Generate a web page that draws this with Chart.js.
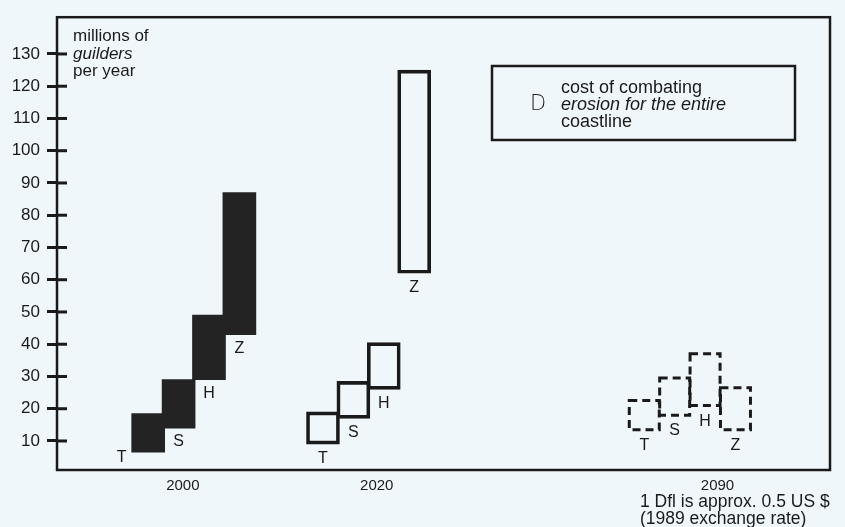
<!DOCTYPE html>
<html>
<head>
<meta charset="utf-8">
<script src="https://cdn.jsdelivr.net/npm/chart.js@4"></script>
<style>
  html, body { margin: 0; padding: 0; background: #f0f7fb; }
  #wrap { width: 845px; height: 527px; }
</style>
</head>
<body>
<div id="wrap"><canvas id="chart" width="845" height="527"></canvas></div>
<script>
// data (millions of guilders per year)
const periods = ["2000", "2020", "2090"];
const scenarios = ["T", "S", "H", "Z"];
const low2000 = [6.5, 14, 29, 43];
const high2000 = [18.5, 29, 49, 87];
const low2020 = [9, 17, 26, 62];
const high2020 = [19, 28.5, 40.5, 125];
const low2090 = [13, 17.5, 20.5, 13];
const high2090 = [23, 30, 37.5, 27];
const yTicks = [10, 20, 30, 40, 50, 60, 70, 80, 90, 100, 110, 120, 130];

// layout: where each group sits on the hidden x axis (one unit per bar)
const groupStart = [3, 8.75, 19.32];
const groupLabelAt = [4.14, 10.52, 21.73];

const ink = "#1a1a1a";
const font = '"Liberation Sans", Arial, Helvetica, sans-serif';

function rows(lo, hi, g) {
    return scenarios.map((s, i) => ({ x: groupStart[g] + i, y: [lo[i], hi[i]] }));
}

const data = {
    datasets: [
        {
            label: periods[0],
            data: rows(low2000, high2000, 0),
            backgroundColor: "#232323",
            borderWidth: 0,
        },
        {
            label: periods[1],
            data: rows(low2020, high2020, 1),
            backgroundColor: "rgba(0,0,0,0)",
            borderColor: ink,
            borderWidth: 3,
            borderSkipped: false,
        },
        {
            label: periods[2],
            data: rows(low2090, high2090, 2),
            backgroundColor: "rgba(0,0,0,0)",
            borderWidth: 0,
            dashed: true,
        },
    ],
};

const extras = {
    id: "extras",
    afterDraw(chart) {
        const ctx = chart.ctx;
        const a = chart.chartArea;
        const y = chart.scales.y;
        ctx.save();
        ctx.strokeStyle = ink;
        ctx.fillStyle = ink;

        // frame
        ctx.lineWidth = 2.5;
        ctx.strokeRect(a.left, a.top, a.right - a.left, a.bottom - a.top);

        // inner half of the y tick crosses
        ctx.lineWidth = 3;
        yTicks.forEach((v) => {
            const py = y.getPixelForValue(v);
            ctx.beginPath();
            ctx.moveTo(a.left, py);
            ctx.lineTo(a.left + 10, py);
            ctx.stroke();
        });

        // dashed boxes
        chart.data.datasets.forEach((ds, di) => {
            if (!ds.dashed) return;
            ctx.lineWidth = 3;
            ctx.setLineDash([8, 5]);
            chart.getDatasetMeta(di).data.forEach((el) => {
                const top = Math.min(el.y, el.base), bot = Math.max(el.y, el.base);
                ctx.strokeRect(el.x - el.width / 2 + 1.5, top + 1.5, el.width - 3, bot - top - 3);
            });
            ctx.setLineDash([]);
        });

        // scenario letters under each bar
        ctx.font = "16px " + font;
        ctx.textAlign = "center";
        ctx.textBaseline = "middle";
        chart.data.datasets.forEach((ds, di) => {
            chart.getDatasetMeta(di).data.forEach((el, i) => {
                const bot = Math.max(el.y, el.base);
                if (bot + 20 > a.bottom) {
                    ctx.fillText(scenarios[i], el.x - el.width / 2 - 10, bot + 5);
                } else {
                    ctx.fillText(scenarios[i], el.x, bot + 14);
                }
            });
        });

        // unit label
        ctx.textAlign = "left";
        ctx.font = "17px " + font;
        ctx.fillText("millions of", 73, 36);
        ctx.font = "italic 17px " + font;
        ctx.fillText("guilders", 73, 54);
        ctx.font = "17px " + font;
        ctx.fillText("per year", 73, 71);

        // key box
        ctx.lineWidth = 2.5;
        ctx.strokeRect(492, 66, 303, 74);
        ctx.font = '200 21px "DejaVu Sans", sans-serif';
        ctx.fillText("D", 530, 105);
        ctx.font = "18px " + font;
        ctx.fillText("cost of combating", 561, 88);
        ctx.font = "italic 18px " + font;
        ctx.fillText("erosion for the entire", 561, 105);
        ctx.font = "18px " + font;
        ctx.fillText("coastline", 561, 122);

        // footnote
        ctx.font = "17.5px " + font;
        ctx.fillText("1 Dfl is approx. 0.5 US $", 640, 502);
        ctx.fillText("(1989 exchange rate)", 640, 519);
        ctx.restore();
    },
};

const config = {
    type: "bar",
    data: data,
    options: {
        responsive: false,
        animation: false,
        layout: { padding: { left: 0, top: 15, right: 15, bottom: 0 } },
        datasets: { bar: { grouped: false, barThickness: 33 } },
        plugins: { legend: { display: false }, tooltip: { enabled: false } },
        scales: {
            x: {
                type: "linear",
                min: 0,
                max: 25.43,
                offset: false,
                grid: { display: false, drawTicks: false },
                border: { display: false },
                afterBuildTicks: (scale) => {
                    scale.ticks = groupLabelAt.map((v) => ({ value: v }));
                },
                afterFit: (scale) => { scale.height = 57; },
                ticks: {
                    autoSkip: false,
                    maxRotation: 0,
                    padding: 7,
                    color: ink,
                    font: { family: font, size: 15 },
                    callback: (v) => periods[groupLabelAt.indexOf(v)],
                },
            },
            y: {
                min: 1,
                max: 141.4,
                grid: { display: true, drawOnChartArea: false, drawTicks: true, tickLength: 10, tickWidth: 3, tickColor: ink },
                border: { display: false },
                afterBuildTicks: (scale) => {
                    scale.ticks = yTicks.map((v) => ({ value: v }));
                },
                afterFit: (scale) => { scale.width = 57; },
                ticks: {
                    padding: 7,
                    color: ink,
                    font: { family: font, size: 17 },
                },
            },
        },
    },
    plugins: [extras],
};

const myChart = new Chart(document.getElementById("chart"), config);
</script>
</body>
</html>
